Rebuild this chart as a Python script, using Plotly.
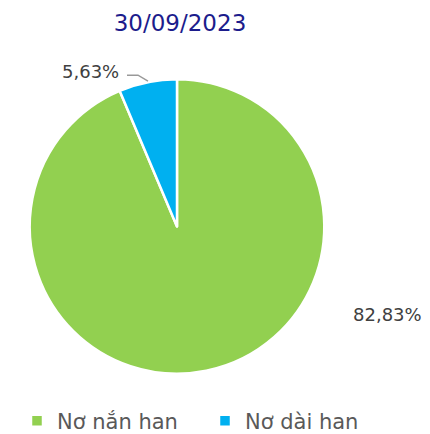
import plotly.graph_objects as go

W, H = 430, 434
# the page body has an 8px margin, so reference pixels are shifted by this much
OFF = 8

categories = ["Nơ nắn han", "Nơ dài han"]
values = [82.83, 5.63]
colors = ["#92D050", "#00B0F0"]
title_text = "30/09/2023"

FONT = "DejaVu Sans, Noto Sans, sans-serif"


def px_x(x):
    return (x - OFF) / W


def px_y(y):
    return 1 - (y - OFF) / H


def fmt_pct(v):
    return f"{v:.2f}".replace(".", ",") + "%"


fig = go.Figure(
    go.Pie(
        labels=categories,
        values=values,
        marker=dict(colors=colors, line=dict(color="white", width=2.5)),
        sort=False,
        direction="counterclockwise",
        rotation=0,
        textinfo="none",
        hoverinfo="label+value",
        domain=dict(x=[px_x(29), px_x(325)], y=[px_y(378), px_y(80)]),
    )
)

label_font = dict(family=FONT, size=18, color="#404040")

fig.add_annotation(
    x=px_x(387), y=px_y(318), xref="paper", yref="paper",
    xanchor="center", yanchor="middle",
    text=fmt_pct(values[0]), showarrow=False, font=label_font,
)
fig.add_annotation(
    x=px_x(90), y=px_y(72), xref="paper", yref="paper",
    xanchor="center", yanchor="middle",
    text=fmt_pct(values[1]), showarrow=False, font=label_font,
)

# leader line for the small slice
fig.add_shape(
    type="path",
    xref="paper", yref="paper",
    path=f"M {px_x(127)} {px_y(76)} L {px_x(138)} {px_y(76)} L {px_x(148)} {px_y(82)}",
    line=dict(color="#999999", width=1.5),
)

fig.update_layout(
    width=W,
    height=H,
    margin=dict(l=0, r=0, t=0, b=0),
    paper_bgcolor="white",
    plot_bgcolor="white",
    title=dict(
        text=title_text,
        x=px_x(180), xanchor="center",
        y=px_y(23), yanchor="middle",
        font=dict(family=FONT, size=23, color="#1c1c8c"),
    ),
    legend=dict(
        orientation="h",
        x=px_x(17), xanchor="left",
        y=px_y(426), yanchor="middle",
        font=dict(family=FONT, size=21, color="#595959"),
        itemwidth=30,
        entrywidth=143,
        traceorder="normal",
    ),
)

fig.write_html("out.html")
